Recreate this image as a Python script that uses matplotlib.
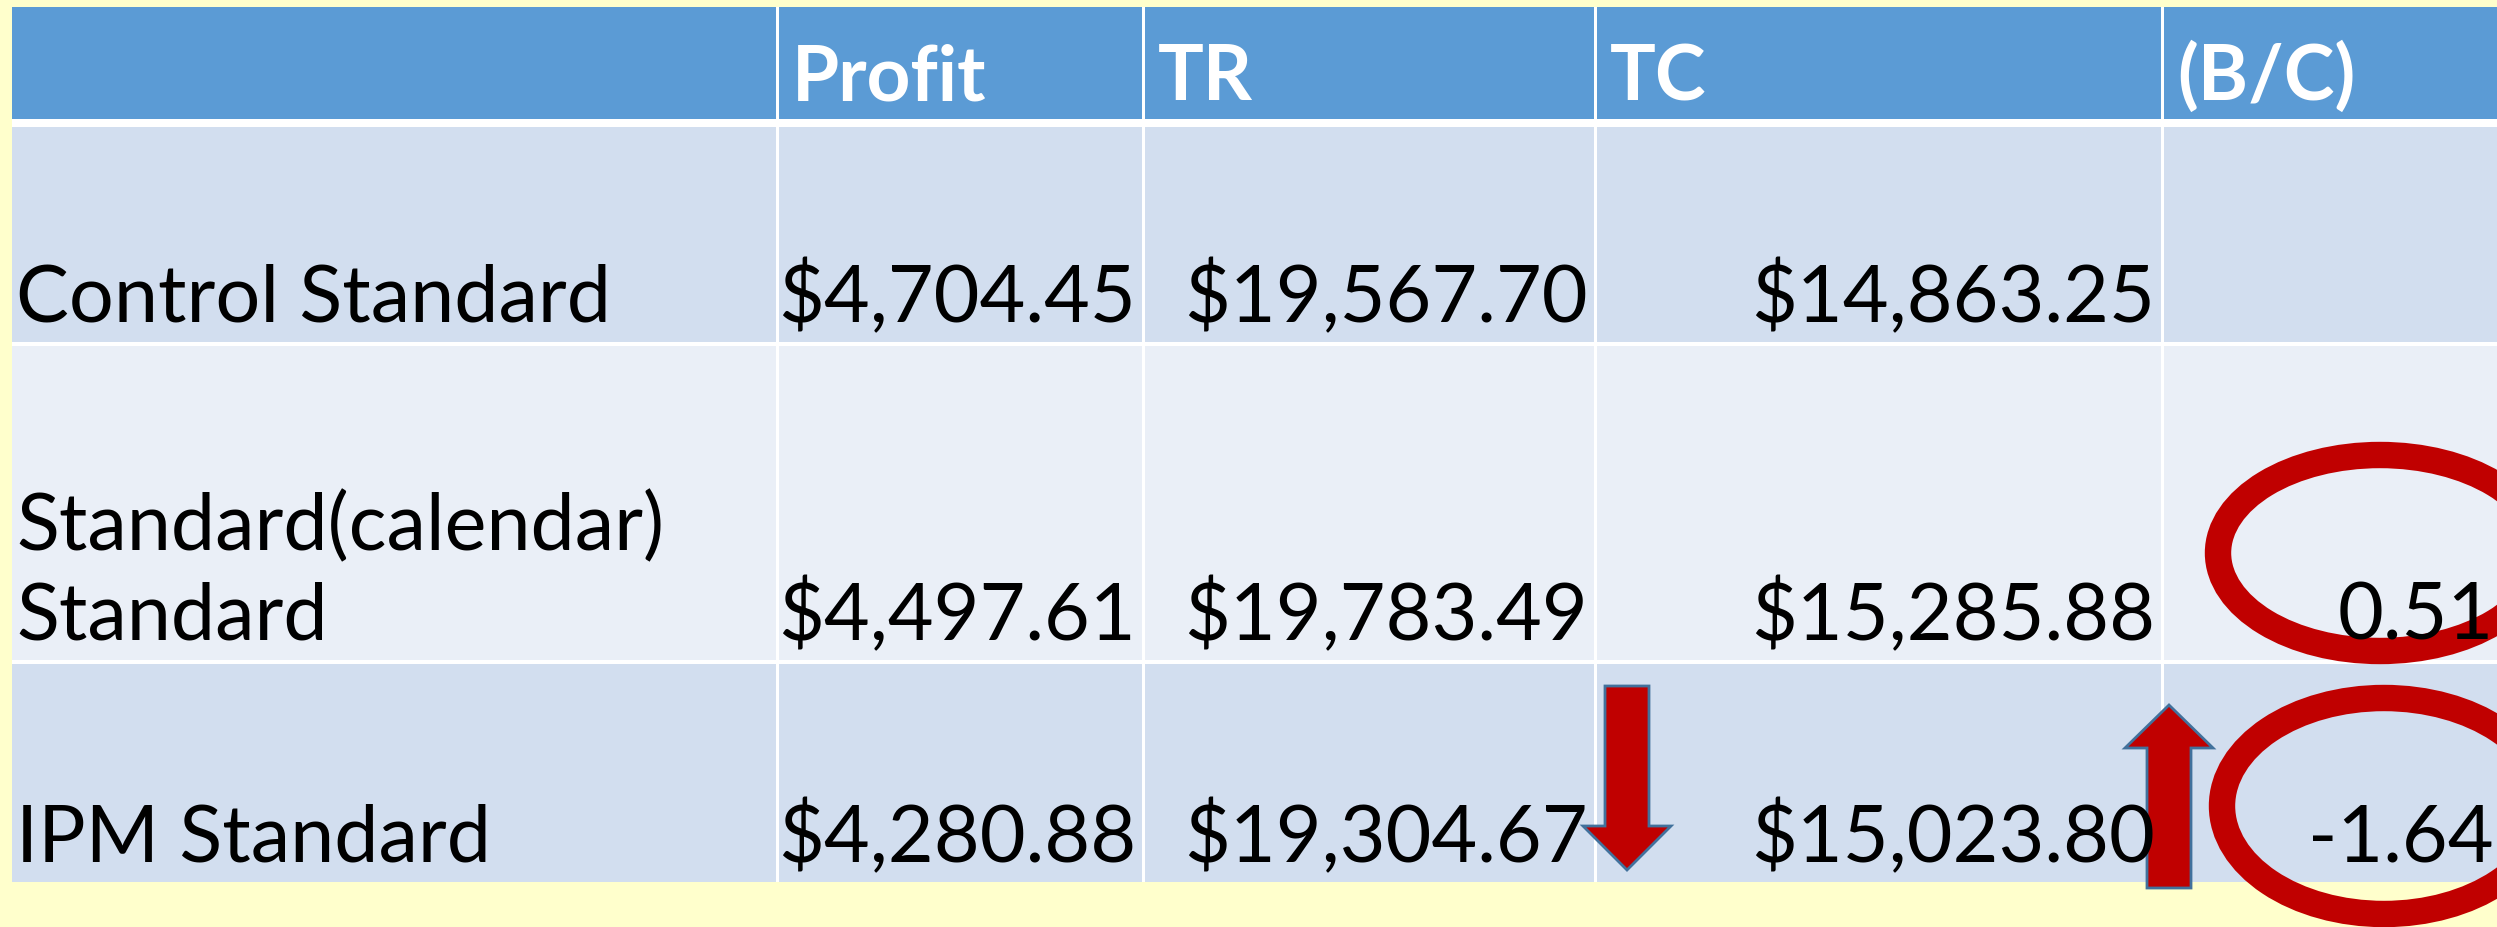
import matplotlib
matplotlib.use("Agg")
import matplotlib.pyplot as plt
from matplotlib.patches import Rectangle, Ellipse, FancyArrow

# table content
headers = ["", "Profit", "TR", "TC", "(B/C)"]
row_labels = ["Control Standard", "Standard(calendar)\nStandard", "IPM Standard"]
profit = ["$4,704.45", "$4,497.61", "$4,280.88"]
tr = ["$19,567.70", "$19,783.49", "$19,304.67"]
tc = ["$14,863.25", "$15,285.88", "$15,023.80"]
bc = ["", "0.51", "-1.64"]

W, H = 2497, 927
fig = plt.figure(figsize=(W / 100, H / 100), dpi=100)
fig.patch.set_facecolor("#FFFFCC")
ax = fig.add_axes([0, 0, 1, 1])
ax.set_xlim(0, W)
ax.set_ylim(H, 0)
ax.axis("off")

FONT = ["Lato", "DejaVu Sans"]

# geometry (pixels)
col_x = [12, 776, 1142, 1594, 2161, 2500]
row_y = [7, 119, 342, 660, 882]
gap = 4

header_col = "#5B9BD5"
row_cols = ["#D2DEEF", "#EAEFF7", "#D2DEEF"]

# white grid under the cells
ax.add_patch(Rectangle((col_x[0], row_y[0]), col_x[-1] - col_x[0], row_y[-1] - row_y[0],
                       facecolor="white", edgecolor="none"))

for r in range(4):
    y0, y1 = row_y[r], row_y[r + 1]
    if r == 0:
        y0f = y0
    else:
        y0f = y0 + (8 if r == 1 else gap)
    fc = header_col if r == 0 else row_cols[r - 1]
    for c in range(5):
        x0, x1 = col_x[c], col_x[c + 1]
        ax.add_patch(Rectangle((x0 + (3 if c else 0), y0f), x1 - x0 - (3 if c else 0), y1 - y0f,
                               facecolor=fc, edgecolor="none"))

# header text
for c in range(1, 5):
    ax.text(col_x[c] + 16, 100, headers[c], color="white", fontsize=55,
            fontweight="bold", family=FONT, ha="left", va="baseline")

cols = [profit, tr, tc, bc]
for r in range(3):
    base = row_y[r + 2] - 20
    ax.text(col_x[0] + 4, base, row_labels[r], fontsize=57, family=FONT,
            ha="left", va="baseline", linespacing=1.3)
    for c, vals in enumerate(cols):
        ax.text(col_x[c + 2] - 6, base, vals[r], fontsize=57, family=FONT,
                ha="right", va="baseline")

red = "#C00000"
edge = "#41719C"
# down arrow next to TR of IPM row
ax.add_patch(FancyArrow(col_x[3] + 33, 686, 0, 184, width=44, head_width=88,
                        head_length=44, length_includes_head=True,
                        facecolor=red, edgecolor=edge, linewidth=2))
# up arrow next to TC of IPM row
ax.add_patch(FancyArrow(col_x[4] + 8, 888, 0, -183, width=44, head_width=88,
                        head_length=43, length_includes_head=True,
                        facecolor=red, edgecolor=edge, linewidth=2))

# ellipses around B/C values
ax.add_patch(Ellipse((2380, 553), 2 * 162, 2 * 98, facecolor="none",
                     edgecolor=red, linewidth=19))
ax.add_patch(Ellipse((2384, 806), 2 * 162, 2 * 108, facecolor="none",
                     edgecolor=red, linewidth=19))

fig.savefig("out.png", dpi=100, facecolor=fig.get_facecolor())
